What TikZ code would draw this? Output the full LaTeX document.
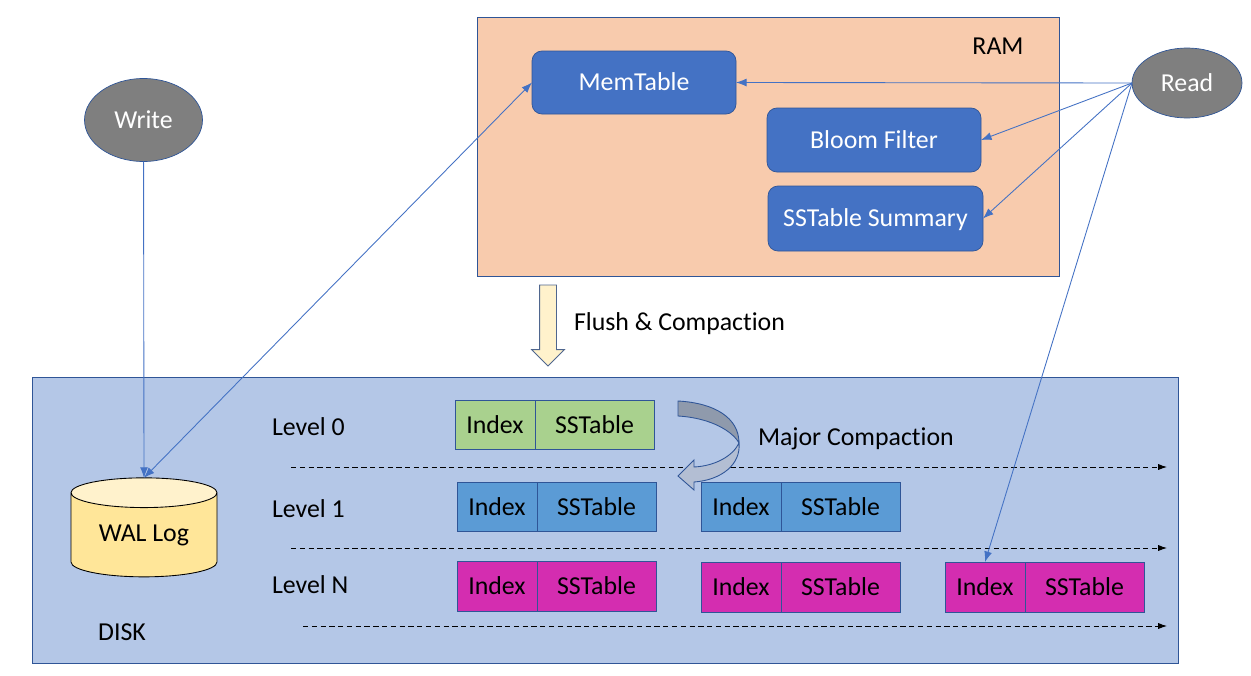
\documentclass[tikz,border=0pt]{standalone}
\usepackage{fontspec}
\setmainfont[Ligatures=NoCommon]{Carlito}
\usetikzlibrary{positioning,shapes.geometric,shapes.arrows,arrows.meta}
\definecolor{ramfill}{HTML}{F8CBAD}
\definecolor{diskfill}{HTML}{B4C7E7}
\definecolor{linkblue}{HTML}{4472C4}
\definecolor{edgeblue}{HTML}{2F5597}
\definecolor{greyfill}{HTML}{7F7F7F}
\definecolor{greenfill}{HTML}{A9D18E}
\definecolor{bluefill}{HTML}{5B9BD5}
\definecolor{pinkfill}{HTML}{D42DB0}
\definecolor{logbody}{HTML}{FFE699}
\definecolor{logtop}{HTML}{FFF2CC}
\definecolor{curlup}{HTML}{8F9AAC}
\definecolor{curldown}{HTML}{B3BED3}
\def\px{0.02cm}
\tikzset{
  every node/.style={font=\fontsize{14.7}{17}\selectfont, inner sep=0pt, outer sep=0pt},
  area/.style={draw=edgeblue, line width=0.4pt},
  store/.style={draw=edgeblue, fill=linkblue, rounded corners=0.2cm, text=white, line width=0.4pt, text height=9.3pt, text depth=0pt},
  client/.style={ellipse, draw=edgeblue, fill=greyfill, text=white, line width=0.4pt},
  idx/.style={draw=edgeblue, line width=0.4pt, minimum width=80*\px},
  sst/.style={draw=edgeblue, line width=0.4pt, minimum width=119*\px},
  link/.style={draw=linkblue, line width=0.5pt, >={Latex[length=6pt,width=4.5pt]}},
  level/.style={->, >={Latex[length=5pt,width=3.5pt]}, densely dashed, line width=0.5pt},
}
\begin{document}
\begin{tikzpicture}[x=0.02cm, y=-0.02cm]
    \useasboundingbox (0,0) rectangle (1251,676);
    % memory and disk areas
    \node[area, fill=ramfill, minimum width=582*\px, minimum height=259*\px] (ram) at (768,146.5) {};
    \node[area, fill=diskfill, minimum width=1146*\px, minimum height=286*\px] (disk) at (605,520) {};
    \node (ramlabel) at (998,46) {RAM};
    \node (disklabel) at (122,632) {DISK};

    % ram contents
    \node[store, minimum width=204*\px, minimum height=63*\px] (memtable) at (634,82.5) {MemTable};
    \node[store, minimum width=214*\px, minimum height=64*\px] (bloom) at (874,140) {Bloom Filter};
    \node[store, minimum width=215*\px, minimum height=65*\px] (summary) at (875.5,218.5) {SSTable Summary};

    % clients
    \node[client, minimum width=118*\px, minimum height=83*\px] (write) at (143.5,120) {Write};
    \node[client, minimum width=110*\px, minimum height=70*\px] (read) at (1187,83) {Read};

    % wal
    \node[cylinder, shape border rotate=90, aspect=0.33, draw=black, line width=0.5pt,
          cylinder uses custom fill, cylinder body fill=logbody, cylinder end fill=logtop,
          minimum width=146*\px, minimum height=99*\px] (wal) at (144,535) {WAL Log};

    % flush
    \node[single arrow, rotate=-90, anchor=tail, draw=edgeblue!60!gray, fill=logtop, line width=0.5pt,
          inner ysep=8*\px, minimum width=32*\px, minimum height=81*\px, single arrow head extend=8*\px,
          single arrow head indent=0pt, single arrow tip angle=90] (flush) at (548,285) {};
    \node[anchor=west] (flushlabel) at (574,324) {Flush \& Compaction};

    % levels
    \node[anchor=west] (level0) at (272,427) {Level 0};
    \node[anchor=west] (level1) at (272,509) {Level 1};
    \node[anchor=west] (levelN) at (272,585) {Level N};
    \coordinate (d0a) at (291,467);
    \coordinate (d0b) at (1167,467);
    \coordinate (d1a) at (291,548);
    \coordinate (d1b) at (1167,548);
    \coordinate (dNa) at (303,626);
    \coordinate (dNb) at (1167,626);
    \draw[level] (d0a)--(d0b);
    \draw[level] (d1a)--(d1b);
    \draw[level] (dNa)--(dNb);

    % major compaction arrow
    \fill[curlup, draw=edgeblue, line width=0.5pt]
        (678,401) .. controls (715,403) and (739,418) .. (739,443)
        .. controls (733,432) and (712,418) .. (678,416) -- cycle;
    \fill[curldown, draw=edgeblue, line width=0.5pt]
        (739,443) .. controls (741,464) and (722,480) .. (694,482)
        -- (694,490) -- (678,476) -- (694,460) -- (694,467)
        .. controls (715,466) and (733,456) .. (739,443) -- cycle;
    \node[anchor=west] (majorlabel) at (758,439) {Major Compaction};

    % tables
    \node[idx, fill=greenfill, minimum height=49*\px] (i00) at (495,424.5) {Index};
    \node[sst, fill=greenfill, minimum height=49*\px, right=0pt of i00] (s00) {SSTable};
    \node[idx, fill=bluefill, minimum height=49*\px] (i10) at (497,506.5) {Index};
    \node[sst, fill=bluefill, minimum height=49*\px, right=0pt of i10] (s10) {SSTable};
    \node[idx, fill=bluefill, minimum height=49*\px] (i11) at (741,506.5) {Index};
    \node[sst, fill=bluefill, minimum height=49*\px, right=0pt of i11] (s11) {SSTable};
    \node[idx, fill=pinkfill, minimum height=50*\px] (iN0) at (497,586) {Index};
    \node[sst, fill=pinkfill, minimum height=50*\px, right=0pt of iN0] (sN0) {SSTable};
    \node[idx, fill=pinkfill, minimum height=50*\px] (iN1) at (741,587) {Index};
    \node[sst, fill=pinkfill, minimum height=50*\px, right=0pt of iN1] (sN1) {SSTable};
    \node[idx, fill=pinkfill, minimum height=50*\px] (iN2) at (985,587) {Index};
    \node[sst, fill=pinkfill, minimum height=50*\px, right=0pt of iN2] (sN2) {SSTable};

    % connectors
    \draw[link, ->] (write)--(wal.top);
    \draw[link, <->] (memtable.west)--(wal.top);
    \draw[link, ->] (read.west)--(memtable.east);
    \draw[link, ->] (read.west)--(bloom.east);
    \draw[link, ->] (read.west)--(summary.east);
    \draw[link, ->] (read.west)--(iN2.north);
\end{tikzpicture}
\end{document}
